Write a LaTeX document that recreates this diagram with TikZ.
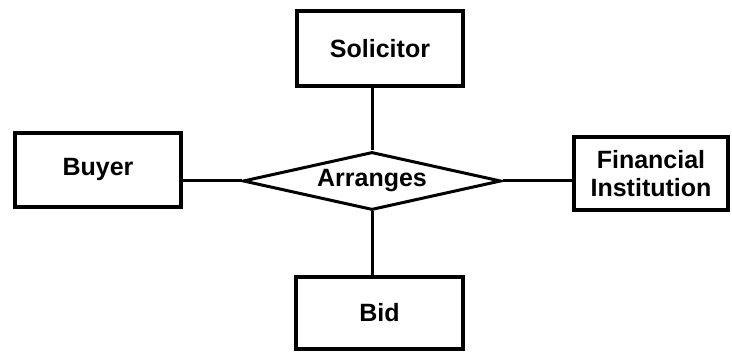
\documentclass[tikz,border=0pt]{standalone}
\usepackage{fontspec}
\setmainfont{Liberation Sans}
\usetikzlibrary{positioning,shapes.geometric}

\begin{document}
\begin{tikzpicture}[x=1pt,y=1pt,
		entity/.style={draw,line width=3.8pt,inner sep=0pt,align=center,font=\bfseries\fontsize{25}{28}\selectfont},
		relation/.style={draw,diamond,aspect=4.3,line width=3pt,inner sep=0pt,minimum width=258pt,minimum height=58pt,font=\bfseries\fontsize{25}{28}\selectfont},
		link/.style={line width=3pt}]
		\useasboundingbox(0,0)rectangle(732,352);
		\node[relation](arr)at(372,171){Arranges};
		\node[entity,minimum width=166pt,minimum height=75pt](sol)at(380,303.5){Solicitor};
		\node[entity,minimum width=166pt,minimum height=74pt](buy)at(98,182){Buyer};
		\node[entity,minimum width=154pt,minimum height=73pt](fin)at(651,178.5){Financial\\Institution};
		\node[entity,minimum width=167pt,minimum height=72pt](bid)at(379.5,39){Bid};
		\draw[link](arr.north)--(arr.north|-sol.south);
		\draw[link](arr.south)--(arr.south|-bid.north);
		\draw[link](arr.west)--(arr.west-|buy.east);
		\draw[link](arr.east)--(arr.east-|fin.west);
	\end{tikzpicture}
\end{document}
